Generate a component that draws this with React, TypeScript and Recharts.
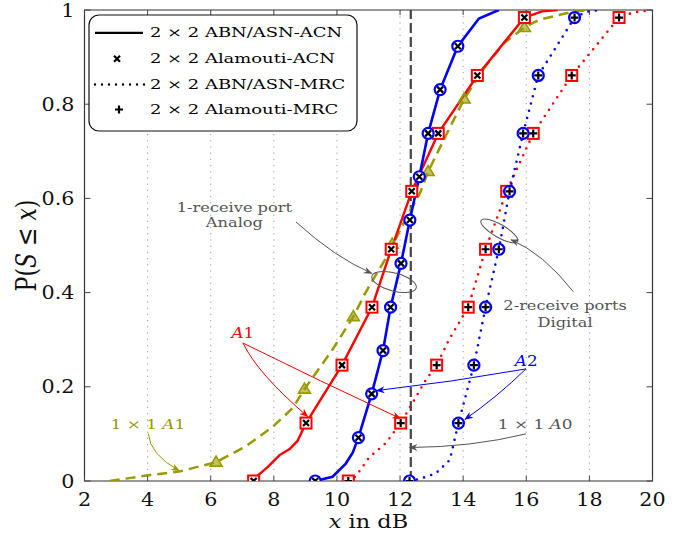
import React from 'react';
import {
  ComposedChart,
  Line,
  Scatter,
  XAxis,
  YAxis,
  CartesianGrid,
  ReferenceLine,
  ReferenceArea,
} from 'recharts';

// chart frame in page pixels (plot area)
const W = 689;
const H = 533;
const LEFT = 84.5;
const RIGHT = 652.5;
const TOP = 10;
const BOTTOM = 481;

const RED = '#ff0000';
const BLUE = '#0000ff';
const OLIVE = '#999900';
const GRAY = '#555555';
const FONT = '"DejaVu Serif", serif';

const xTicks = [2, 4, 6, 8, 10, 12, 14, 16, 18, 20];
const yTicks = [0, 0.2, 0.4, 0.6, 0.8, 1];

// 1x1 A0 threshold (vertical dashed line)
const thresholdX = 12.34;

// 2x2 ABN/ASN-ACN, A1 (red) and A2 (blue)
const redAcnCurve = [
  { x: 7.33, y: 0 }, { x: 7.5, y: 0.012 }, { x: 7.81, y: 0.03 }, { x: 8.18, y: 0.055 },
  { x: 8.5, y: 0.068 }, { x: 8.75, y: 0.085 }, { x: 9.02, y: 0.123 }, { x: 10.16, y: 0.246 },
  { x: 11.11, y: 0.369 }, { x: 11.72, y: 0.492 }, { x: 12.37, y: 0.615 }, { x: 13.21, y: 0.738 },
  { x: 14.45, y: 0.861 }, { x: 15.94, y: 0.984 }, { x: 16.5, y: 0.997 }, { x: 17, y: 1 },
];
const blueAcnCurve = [
  { x: 9.3, y: 0 }, { x: 9.86, y: 0.009 }, { x: 10.28, y: 0.037 }, { x: 10.5, y: 0.06 },
  { x: 10.68, y: 0.092 }, { x: 11.1, y: 0.185 }, { x: 11.46, y: 0.277 }, { x: 11.7, y: 0.369 },
  { x: 12.03, y: 0.462 }, { x: 12.31, y: 0.554 }, { x: 12.61, y: 0.646 }, { x: 12.89, y: 0.738 },
  { x: 13.27, y: 0.831 }, { x: 13.83, y: 0.923 }, { x: 14.5, y: 0.982 }, { x: 15.13, y: 1 },
];

// 2x2 ABN/ASN-MRC
const redMrcCurve = [
  { x: 10.36, y: 0 }, { x: 10.6, y: 0.01 }, { x: 11.02, y: 0.05 }, { x: 11.54, y: 0.08 },
  { x: 12.02, y: 0.123 }, { x: 12.39, y: 0.165 }, { x: 12.81, y: 0.214 }, { x: 13.16, y: 0.246 },
  { x: 13.55, y: 0.3 }, { x: 14.16, y: 0.369 }, { x: 14.71, y: 0.492 }, { x: 15.38, y: 0.615 },
  { x: 16.22, y: 0.738 }, { x: 17.44, y: 0.861 }, { x: 18.94, y: 0.984 }, { x: 19.4, y: 0.995 },
  { x: 20, y: 1 },
];
const blueMrcCurve = [
  { x: 12.3, y: 0 }, { x: 12.6, y: 0.004 }, { x: 13.13, y: 0.016 }, { x: 13.58, y: 0.045 },
  { x: 13.85, y: 0.123 }, { x: 14.34, y: 0.246 }, { x: 14.71, y: 0.369 }, { x: 15.13, y: 0.492 },
  { x: 15.47, y: 0.615 }, { x: 15.9, y: 0.738 }, { x: 16.38, y: 0.861 }, { x: 17.53, y: 0.984 },
  { x: 17.9, y: 0.996 }, { x: 18.3, y: 1 },
];

// 1x1 A1 (olive dashed)
const oliveCurve = [
  { x: 2.8, y: 0 }, { x: 4, y: 0.012 }, { x: 5, y: 0.02 }, { x: 6.17, y: 0.04 },
  { x: 7.1, y: 0.073 }, { x: 7.96, y: 0.115 }, { x: 8.6, y: 0.155 }, { x: 8.97, y: 0.195 },
  { x: 9.85, y: 0.278 }, { x: 10.52, y: 0.349 }, { x: 10.89, y: 0.398 }, { x: 11.2, y: 0.434 },
  { x: 11.58, y: 0.476 }, { x: 11.9, y: 0.519 }, { x: 12.16, y: 0.554 }, { x: 12.63, y: 0.611 },
  { x: 12.89, y: 0.657 }, { x: 13.5, y: 0.74 }, { x: 14.03, y: 0.811 }, { x: 14.7, y: 0.88 },
  { x: 15.3, y: 0.93 }, { x: 15.94, y: 0.963 }, { x: 16.4, y: 0.979 }, { x: 17.44, y: 0.996 },
  { x: 18, y: 1 },
];

// Alamouti marks
const redAcnMarks = [
  { x: 7.36, y: 0 }, { x: 9.02, y: 0.123 }, { x: 10.16, y: 0.246 }, { x: 11.11, y: 0.369 },
  { x: 11.72, y: 0.492 }, { x: 12.37, y: 0.615 }, { x: 13.21, y: 0.738 }, { x: 14.45, y: 0.861 },
  { x: 15.94, y: 0.984 },
];
const blueAcnMarks = [
  { x: 9.31, y: 0 }, { x: 10.68, y: 0.092 }, { x: 11.1, y: 0.185 }, { x: 11.46, y: 0.277 },
  { x: 11.7, y: 0.369 }, { x: 12.03, y: 0.462 }, { x: 12.31, y: 0.554 }, { x: 12.61, y: 0.646 },
  { x: 12.89, y: 0.738 }, { x: 13.27, y: 0.831 }, { x: 13.83, y: 0.923 },
];
const redMrcMarks = [
  { x: 10.36, y: 0 }, { x: 12.02, y: 0.123 }, { x: 13.16, y: 0.246 }, { x: 14.16, y: 0.369 },
  { x: 14.71, y: 0.492 }, { x: 15.38, y: 0.615 }, { x: 16.22, y: 0.738 }, { x: 17.44, y: 0.861 },
  { x: 18.94, y: 0.984 },
];
const blueMrcMarks = [
  { x: 12.3, y: 0 }, { x: 13.85, y: 0.123 }, { x: 14.34, y: 0.246 }, { x: 14.71, y: 0.369 },
  { x: 15.13, y: 0.492 }, { x: 15.47, y: 0.615 }, { x: 15.9, y: 0.738 }, { x: 16.38, y: 0.861 },
  { x: 17.53, y: 0.984 },
];
const oliveMarks = [
  { x: 6.17, y: 0.04 }, { x: 8.97, y: 0.195 }, { x: 10.52, y: 0.349 }, { x: 11.75, y: 0.503 },
  { x: 12.89, y: 0.657 }, { x: 14.03, y: 0.811 }, { x: 15.94, y: 0.963 },
];

const legendLabels = [
  '2 × 2 ABN/ASN-ACN',
  '2 × 2 Alamouti-ACN',
  '2 × 2 ABN/ASN-MRC',
  '2 × 2 Alamouti-MRC',
];

// data -> pixel, same frame as the chart above
const sx = (v: number) => LEFT + ((v - 2) / 18) * (RIGHT - LEFT);
const sy = (v: number) => BOTTOM - v * (BOTTOM - TOP);

const Mark = ({ cx, cy, plus }: any) =>
  plus ? (
    <path d={`M${cx - 4},${cy}H${cx + 4}M${cx},${cy - 4}V${cy + 4}`} stroke="#000" strokeWidth={2.2} />
  ) : (
    <path
      d={`M${cx - 3},${cy - 3}L${cx + 3},${cy + 3}M${cx - 3},${cy + 3}L${cx + 3},${cy - 3}`}
      stroke="#000"
      strokeWidth={2.2}
    />
  );

const squareShape = (plus: boolean) => (p: any) => (
  <g>
    <rect x={p.cx - 5.5} y={p.cy - 5.5} width={11} height={11} fill="#fff" stroke={RED} strokeWidth={2} />
    <Mark cx={p.cx} cy={p.cy} plus={plus} />
  </g>
);

const circleShape = (plus: boolean) => (p: any) => (
  <g>
    <circle cx={p.cx} cy={p.cy} r={5.5} fill="#fff" stroke={BLUE} strokeWidth={2.2} />
    <Mark cx={p.cx} cy={p.cy} plus={plus} />
  </g>
);

const triangleShape = (p: any) => (
  <path
    d={`M${p.cx},${p.cy - 6}L${p.cx + 6},${p.cy + 4}L${p.cx - 6},${p.cy + 4}Z`}
    fill={OLIVE}
    fillOpacity={0.6}
    stroke={OLIVE}
    strokeWidth={1.6}
  />
);

const XTick = (props: any) => {
  const { x, payload } = props;
  return (
    <g>
      <line x1={x} x2={x} y1={BOTTOM} y2={BOTTOM - 5} stroke="#444" />
      <line x1={x} x2={x} y1={TOP} y2={TOP + 5} stroke="#444" />
      <text
        transform={`translate(${x},${BOTTOM + 25}) scale(1.15,1)`}
        textAnchor="middle"
        fontSize={18}
        fontFamily={FONT}
        fill="#111"
      >
        {payload.value}
      </text>
    </g>
  );
};

const YTick = (props: any) => {
  const { y, payload } = props;
  const v = payload.value;
  const label = v === 0 || v === 1 ? String(v) : v.toFixed(1);
  return (
    <g>
      <line x1={LEFT} x2={LEFT + 6} y1={y} y2={y} stroke="#444" />
      <line x1={RIGHT} x2={RIGHT - 6} y1={y} y2={y} stroke="#444" />
      <text
        transform={`translate(${LEFT - 10},${y + 6.5}) scale(1.15,1)`}
        textAnchor="end"
        fontSize={18}
        fontFamily={FONT}
        fill="#111"
      >
        {label}
      </text>
    </g>
  );
};

const SText = ({ x, y, size = 12, k = 1.35, color = GRAY, children }: any) => (
  <text
    transform={`translate(${sx(x)},${sy(y)}) scale(${k},1)`}
    textAnchor="middle"
    fontSize={size}
    fontFamily={FONT}
    fill={color}
  >
    {children}
  </text>
);

const Arrow = ({ from, ctrl, to, color, id }: any) => (
  <path
    d={`M${sx(from[0])},${sy(from[1])} Q${sx(ctrl[0])},${sy(ctrl[1])} ${sx(to[0])},${sy(to[1])}`}
    fill="none"
    stroke={color}
    strokeWidth={1}
    markerEnd={`url(#${id})`}
  />
);

const Head = ({ id, color }: any) => (
  <marker id={id} viewBox="0 0 10 8" refX={9} refY={4} markerWidth={9} markerHeight={7} markerUnits="userSpaceOnUse" orient="auto">
    <path d="M0,0 L10,4 L0,8 L3,4 Z" fill={color} />
  </marker>
);

const Overlay = () => {
  const rows = [37.3, 63.3, 89, 114];
  return (
    <svg width={W} height={H} style={{ position: 'absolute', left: 0, top: 0, pointerEvents: 'none' }}>
      <defs>
        <Head id="hg" color={GRAY} />
        <Head id="hr" color={RED} />
        <Head id="hb" color={BLUE} />
        <Head id="ho" color={OLIVE} />
      </defs>

      {/* legend */}
      <rect x={89} y={15} width={268} height={116} rx={10} fill="#fff" stroke="#111" strokeWidth={1.2} />
      <line x1={95} x2={143} y1={rows[0] - 4.5} y2={rows[0] - 4.5} stroke="#000" strokeWidth={2.2} />
      <Mark cx={117} cy={rows[1] - 4.5} plus={false} />
      <line
        x1={95}
        x2={145}
        y1={rows[2] - 4.5}
        y2={rows[2] - 4.5}
        stroke="#000"
        strokeWidth={2.4}
        strokeDasharray="0 7"
        strokeLinecap="round"
      />
      <Mark cx={119} cy={rows[3] - 4.5} plus />
      {legendLabels.map((t, i) => (
        <text
          key={t}
          transform={`translate(150,${rows[i]}) scale(1.38,1)`}
          fontSize={13}
          fontFamily={FONT}
          fill="#000"
        >
          {t}
        </text>
      ))}

      {/* 1-receive port analog */}
      <SText x={6.75} y={0.571}>1-receive port</SText>
      <SText x={6.75} y={0.539}>Analog</SText>
      <Arrow from={[8.7, 0.55]} ctrl={[9.93, 0.475]} to={[11.1, 0.441]} color={GRAY} id="hg" />
      <ellipse
        cx={sx(11.81)}
        cy={sy(0.4225)}
        rx={23}
        ry={9}
        transform={`rotate(15 ${sx(11.81)} ${sy(0.4225)})`}
        fill="none"
        stroke={GRAY}
        strokeWidth={1}
      />

      {/* 2-receive ports digital */}
      <SText x={17.23} y={0.362}>2-receive ports</SText>
      <SText x={17.23} y={0.327}>Digital</SText>
      <Arrow from={[17.49, 0.402]} ctrl={[16.53, 0.484]} to={[15.52, 0.512]} color={GRAY} id="hg" />
      <ellipse
        cx={sx(15.145)}
        cy={sy(0.531)}
        rx={21}
        ry={6.5}
        transform={`rotate(30 ${sx(15.145)} ${sy(0.531)})`}
        fill="none"
        stroke={GRAY}
        strokeWidth={1}
      />

      {/* A1 */}
      <SText x={7.02} y={0.304} size={14} k={1.2} color={RED}>
        <tspan fontStyle="italic">A</tspan>1
      </SText>
      <Arrow from={[7.02, 0.293]} ctrl={[7.5, 0.227]} to={[9.07, 0.137]} color={RED} id="hr" />
      <Arrow from={[7.02, 0.293]} ctrl={[9.46, 0.212]} to={[12.0, 0.133]} color={RED} id="hr" />

      {/* A2 */}
      <SText x={16.0} y={0.244} size={14} k={1.2} color={BLUE}>
        <tspan fontStyle="italic">A</tspan>2
      </SText>
      <Arrow from={[15.99, 0.238]} ctrl={[13.65, 0.21]} to={[11.26, 0.192]} color={BLUE} id="hb" />
      <Arrow from={[15.99, 0.238]} ctrl={[15.07, 0.178]} to={[14.06, 0.131]} color={BLUE} id="hb" />

      {/* 1x1 A0 */}
      <SText x={16.28} y={0.11} size={12.5}>
        1 × 1 <tspan fontStyle="italic">A</tspan>0
      </SText>
      <Arrow from={[15.99, 0.1]} ctrl={[14.28, 0.072]} to={[12.3, 0.071]} color={GRAY} id="hg" />

      {/* 1x1 A1 */}
      <SText x={4.01} y={0.11} size={12.5} color={OLIVE}>
        1 × 1 <tspan fontStyle="italic">A</tspan>1
      </SText>
      <Arrow from={[4.02, 0.101]} ctrl={[4.07, 0.056]} to={[5.0, 0.022]} color={OLIVE} id="ho" />

      {/* axis titles */}
      <text
        transform={`translate(${(LEFT + RIGHT) / 2},528) scale(1.18,1)`}
        textAnchor="middle"
        fontSize={19}
        fontFamily={FONT}
        fill="#111"
      >
        <tspan fontStyle="italic">x</tspan> in dB
      </text>
      <text
        transform={`translate(36,${(TOP + BOTTOM) / 2}) rotate(-90) scale(1,1.3)`}
        textAnchor="middle"
        fontSize={22}
        fontFamily={FONT}
        fill="#111"
      >
        P(<tspan fontStyle="italic">S</tspan> ≤ <tspan fontStyle="italic">x</tspan>)
      </text>
    </svg>
  );
};

const App = () => {
  return (
    <div style={{ position: 'relative', width: W, height: H }}>
      <style>{'body{margin:0}'}</style>
      <ComposedChart width={W} height={H} margin={{ top: TOP, right: W - RIGHT, left: 0, bottom: 0 }}>
        <CartesianGrid horizontal={false} stroke="#999" strokeDasharray="1.2 5" />
        <XAxis
          type="number"
          dataKey="x"
          domain={[2, 20]}
          ticks={xTicks}
          height={H - BOTTOM}
          axisLine={false}
          tickLine={false}
          tick={<XTick />}
          allowDataOverflow
        />
        <YAxis
          type="number"
          dataKey="y"
          domain={[0, 1]}
          ticks={yTicks}
          width={LEFT}
          axisLine={false}
          tickLine={false}
          tick={<YTick />}
          allowDataOverflow
        />
        <ReferenceArea x1={2} x2={20} y1={0} y2={1} fill="none" stroke="#333" strokeWidth={1.2} />
        <ReferenceLine x={thresholdX} stroke="#444" strokeWidth={2.2} strokeDasharray="10 4" />
        <Line data={oliveCurve} dataKey="y" type="linear" stroke={OLIVE} strokeWidth={2.5} strokeDasharray="10 6" dot={false} isAnimationActive={false} />
        <Line data={redMrcCurve} dataKey="y" type="linear" stroke={RED} strokeWidth={2.6} strokeDasharray="0 7.5" strokeLinecap="round" dot={false} isAnimationActive={false} />
        <Line data={blueMrcCurve} dataKey="y" type="linear" stroke={BLUE} strokeWidth={2.6} strokeDasharray="0 7.5" strokeLinecap="round" dot={false} isAnimationActive={false} />
        <Line data={redAcnCurve} dataKey="y" type="linear" stroke={RED} strokeWidth={2.4} dot={false} isAnimationActive={false} />
        <Line data={blueAcnCurve} dataKey="y" type="linear" stroke={BLUE} strokeWidth={2.6} dot={false} isAnimationActive={false} />
        <Scatter data={oliveMarks} dataKey="y" shape={triangleShape} isAnimationActive={false} />
        <Scatter data={redAcnMarks} dataKey="y" shape={squareShape(false)} isAnimationActive={false} />
        <Scatter data={blueAcnMarks} dataKey="y" shape={circleShape(false)} isAnimationActive={false} />
        <Scatter data={redMrcMarks} dataKey="y" shape={squareShape(true)} isAnimationActive={false} />
        <Scatter data={blueMrcMarks} dataKey="y" shape={circleShape(true)} isAnimationActive={false} />
      </ComposedChart>
      <Overlay />
    </div>
  );
};

export default App;
